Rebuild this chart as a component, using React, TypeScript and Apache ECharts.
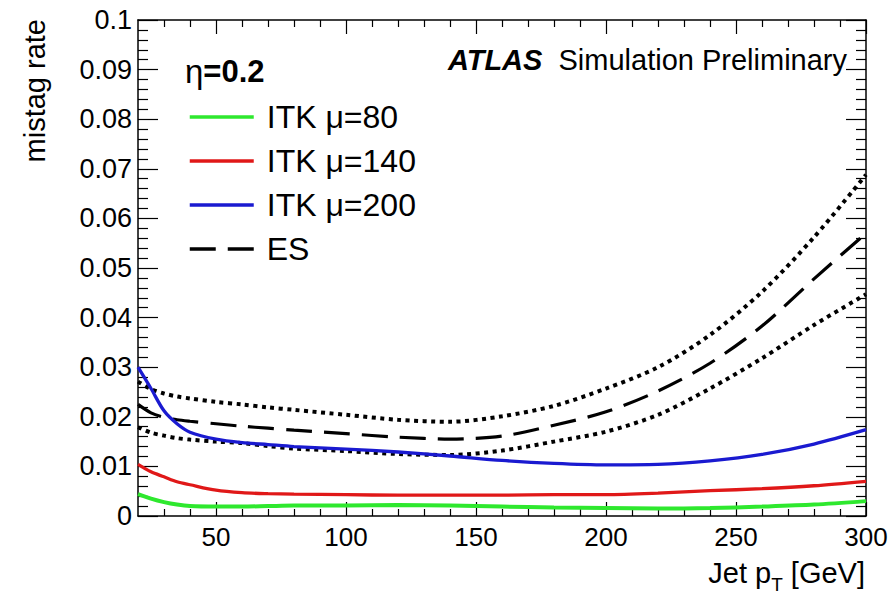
import React, { useEffect, useRef } from "react";
import * as echarts from "echarts";

const ptGeV = [20, 25, 30, 35, 40, 50, 60, 70, 80, 100, 120, 140, 160, 180, 200, 220, 240, 260, 280, 300];

const itkMu80 = [0.0044, 0.0035, 0.0028, 0.0023, 0.0020, 0.0019, 0.0019, 0.0020, 0.0021, 0.0021, 0.0022, 0.0021, 0.0019, 0.0017, 0.0016, 0.0015, 0.0016, 0.0019, 0.0023, 0.0030];
const itkMu140 = [0.0104, 0.0089, 0.0079, 0.0069, 0.0063, 0.0052, 0.0047, 0.0045, 0.0044, 0.0043, 0.0042, 0.0042, 0.0042, 0.0043, 0.0043, 0.0046, 0.0051, 0.0055, 0.0061, 0.0070];
const itkMu200 = [0.0300, 0.0257, 0.0212, 0.0186, 0.0169, 0.0155, 0.0148, 0.0144, 0.0140, 0.0135, 0.0129, 0.0121, 0.0112, 0.0106, 0.0103, 0.0104, 0.0111, 0.0124, 0.0145, 0.0174];
const esCentral = [0.0225, 0.0208, 0.0199, 0.0194, 0.0191, 0.0186, 0.0181, 0.0177, 0.0173, 0.0166, 0.0159, 0.0155, 0.0161, 0.0183, 0.0210, 0.0252, 0.0308, 0.0383, 0.0478, 0.0570];
const esUpper = [0.0271, 0.0256, 0.0247, 0.0241, 0.0237, 0.0230, 0.0225, 0.0219, 0.0214, 0.0204, 0.0194, 0.0190, 0.0201, 0.0222, 0.0257, 0.0300, 0.0365, 0.0452, 0.0562, 0.0688];
const esLower = [0.0179, 0.0168, 0.0162, 0.0157, 0.0154, 0.0150, 0.0147, 0.0141, 0.0136, 0.0131, 0.0125, 0.0123, 0.0132, 0.0150, 0.0170, 0.0204, 0.0257, 0.0318, 0.0385, 0.0447];

const xMajorTicks = [50, 100, 150, 200, 250, 300];
const xMinorTicks = [30, 40, 60, 70, 80, 90, 110, 120, 130, 140, 160, 170, 180, 190, 210, 220, 230, 240, 260, 270, 280, 290];

const FONT = "Liberation Sans";

const pairs = (vals: number[]) => ptGeV.map((x, i) => [x, vals[i]]);

export default function App() {
  const ref = useRef<HTMLDivElement>(null);
  useEffect(() => {
    if (!ref.current) return;
    const chart = echarts.init(ref.current, null, { renderer: "svg" });
    const baseX = (pos: "bottom" | "top", ticks: number[], len: number, labels: boolean, line: boolean) => ({
      type: "value",
      position: pos,
      min: 20,
      max: 300,
      axisLine: { show: line, onZero: false, lineStyle: { color: "#000", width: 1.5 } },
      axisTick: { show: true, inside: true, length: len, customValues: ticks, lineStyle: { color: "#000", width: 1.2 } },
      axisLabel: labels
        ? { show: true, customValues: ticks, fontFamily: FONT, fontSize: 26, color: "#000", margin: 8 }
        : { show: false, customValues: ticks },
      splitLine: { show: false },
    });
    const baseY = (pos: "left" | "right", labels: boolean) => ({
      type: "value",
      position: pos,
      min: 0,
      max: 0.1,
      interval: 0.01,
      axisLine: { show: true, onZero: false, lineStyle: { color: "#000", width: 1.5 } },
      axisTick: { show: true, inside: true, length: 20, lineStyle: { color: "#000", width: 1.2 } },
      minorTick: { show: true, splitNumber: 5, length: 10, lineStyle: { color: "#000", width: 1.2 } },
      axisLabel: {
        show: labels,
        fontFamily: FONT,
        fontSize: 27,
        color: "#000",
        margin: 6,
        formatter: (v: number) => (v === 0 ? "0" : String(+v.toFixed(3))),
      },
      splitLine: { show: false },
      minorSplitLine: { show: false },
    });

    const option: any = {
      animation: false,
      backgroundColor: "#fff",
      grid: { left: 138, right: 27, top: 20, bottom: 86, show: false },
      xAxis: [
        baseX("bottom", xMajorTicks, 14, true, true),
        baseX("bottom", xMinorTicks, 7, false, false),
        baseX("top", xMajorTicks, 14, false, true),
        baseX("top", xMinorTicks, 7, false, false),
      ],
      yAxis: [baseY("left", true), baseY("right", false)],
      legend: {
        data: ["ITK μ=80", "ITK μ=140", "ITK μ=200", "ES"],
        orient: "vertical",
        left: 188,
        top: 101,
        padding: 0,
        itemWidth: 64,
        itemHeight: 14,
        itemGap: 12,
        selectedMode: false,
        itemStyle: { opacity: 0 },
        lineStyle: { width: 3.5 },
        textStyle: { fontFamily: FONT, fontSize: 32, color: "#000", lineHeight: 32, padding: [0, 0, 0, 8] },
      },
      graphic: [
        {
          type: "text",
          x: 35,
          y: 19,
          rotation: Math.PI / 2,
          style: { text: "mistag rate", font: `29px "${FONT}"`, fill: "#000", textAlign: "right", textVerticalAlign: "middle" },
        },
        {
          type: "text",
          right: 28,
          top: 558,
          style: {
            text: "{a|Jet p}{s|T}{a| [GeV]}",
            rich: {
              a: { fontFamily: FONT, fontSize: 29, fill: "#000", color: "#000" },
              s: { fontFamily: FONT, fontSize: 19, fill: "#000", color: "#000", padding: [24, 0, 0, 0] },
            },
          },
        },
        {
          type: "text",
          right: 46,
          top: 45,
          style: {
            text: "{b|ATLAS}{n|  Simulation Preliminary}",
            rich: {
              b: { fontFamily: FONT, fontSize: 29, fontWeight: "bold", fontStyle: "italic", fill: "#000", color: "#000" },
              n: { fontFamily: FONT, fontSize: 29, fill: "#000", color: "#000" },
            },
          },
        },
        {
          type: "text",
          left: 185,
          top: 55,
          style: {
            text: "{n|η}{b|=0.2}",
            rich: {
              n: { fontFamily: FONT, fontSize: 33, fill: "#000", color: "#000" },
              b: { fontFamily: FONT, fontSize: 31, fontWeight: "bold", fill: "#000", color: "#000" },
            },
          },
        },
      ],
      series: [
        {
          name: "ES up",
          type: "line",
          data: pairs(esUpper),
          smooth: 0.3,
          symbol: "none",
          lineStyle: { color: "#000", width: 4, type: [4, 4.5] },
        },
        {
          name: "ES down",
          type: "line",
          data: pairs(esLower),
          smooth: 0.3,
          symbol: "none",
          lineStyle: { color: "#000", width: 4, type: [4, 4.5] },
        },
        {
          name: "ES",
          type: "line",
          data: pairs(esCentral),
          smooth: 0.3,
          symbol: "none",
          itemStyle: { color: "#000" },
          lineStyle: { color: "#000", width: 3.2, type: [26, 12] },
        },
        {
          name: "ITK μ=80",
          type: "line",
          data: pairs(itkMu80),
          smooth: 0.3,
          symbol: "none",
          itemStyle: { color: "#2ee82e" },
          lineStyle: { color: "#2ee82e", width: 4 },
        },
        {
          name: "ITK μ=140",
          type: "line",
          data: pairs(itkMu140),
          smooth: 0.3,
          symbol: "none",
          itemStyle: { color: "#e01818" },
          lineStyle: { color: "#e01818", width: 3.3 },
        },
        {
          name: "ITK μ=200",
          type: "line",
          data: pairs(itkMu200),
          smooth: 0.3,
          symbol: "none",
          itemStyle: { color: "#1a1ad0" },
          lineStyle: { color: "#1a1ad0", width: 3.3 },
        },
      ],
    };
    chart.setOption(option);
    return () => chart.dispose();
  }, []);
  return <div ref={ref} style={{ position: "fixed", left: 0, top: 0, width: 893, height: 602 }} />;
}
